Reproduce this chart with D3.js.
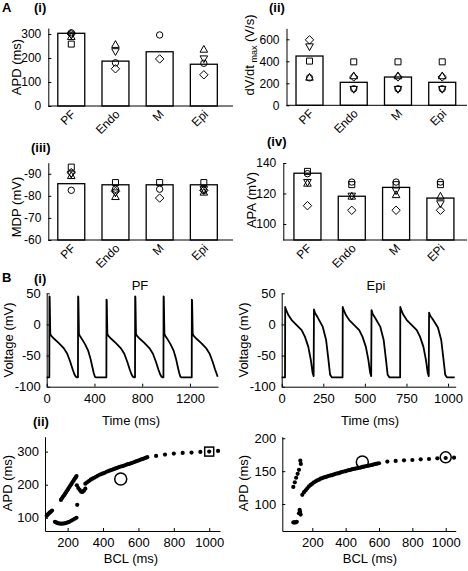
<!DOCTYPE html>
<html><head><meta charset="utf-8">
<script src="https://cdn.jsdelivr.net/npm/d3@7"></script>
<style>body{margin:0;background:#fff} svg text{font-family:"Liberation Sans",Arial,sans-serif}</style>
</head><body><svg id="c" width="468" height="571"></svg>
<script>
// ---------- DATA ----------
const categories = ["PF","Endo","M","Epi"];
const categoriesIV = ["PF","Endo","M","EPi"];

// A(i) APD (ms)
const apdMean    = [303, 187, 226, 174];
const apdCircle  = [305, 180, 296, 178];
const apdSquare  = [258, null, null, null];
const apdTriUp   = [288, 255, null, 235];
const apdTriDown = [297, 228, null, 198];
const apdDiamond = [300, 155, 196, 130];
const apdTicks   = [0, 100, 200, 300];

// A(ii) dV/dt max (V/s)
const dvdtMean    = [448, 209, 257, 209];
const dvdtCircle  = [250, 150, 150, 150];
const dvdtSquare  = [402, 395, 395, 395];
const dvdtTriUp   = [252, 265, 265, 265];
const dvdtTriDown = [535, 148, 148, 148];
const dvdtDiamond = [595, 258, 258, 258];
const dvdtTicks   = [0, 200, 400, 600];

// A(iii) MDP (mV)
const mdpMean    = [-85.5, -85, -85, -85];
const mdpCircle  = [-82.5, -83, -83, -82.5];
const mdpSquare  = [-93, -86, -86, -86];
const mdpTriUp   = [-89, -79.5, null, -81.5];
const mdpTriDown = [-90, -81.5, null, -83];
const mdpDiamond = [-90.5, -82, -79, -82.5];
const mdpTicks   = [-90, -80, -70, -60];

// A(iv) APA (mV)
const apaMean    = [133.3, 118.2, 124, 117];
const apaCircle  = [133, 127.5, 127.5, 127.5];
const apaSquare  = [134.5, 125.8, 125.8, 125.8];
const apaTriUp   = [126.5, 118, 119, 118];
const apaTriDown = [127.5, 118.5, 122, 113.5];
const apaDiamond = [112, 109, 109, 109];
const apaTicks   = [100, 120, 140];

// B(i) voltage traces [time ms, voltage mV]
const pfTrace = [[0,-85],[22,-85],[23,45],[25,44],[30,-15],[37,-18],[62,-23],[102,-30],[142,-38],[172,-47],[197,-60],[217,-72],[232,-80],[244,-84],[254,-85],[262,-85],
 [263,45],[265,44],[270,-15],[277,-18],[297,-24],[322,-32],[347,-42],[367,-55],[382,-68],[394,-78],[404,-84],[412,-85],[500,-85],
 [501,40],[503,39],[508,-15],[515,-18],[540,-23],[580,-30],[620,-38],[650,-47],[675,-60],[695,-72],[710,-80],[722,-84],[732,-85],[740,-85],
 [741,45],[743,44],[748,-15],[755,-18],[780,-23],[820,-30],[860,-38],[890,-47],[915,-60],[935,-72],[950,-80],[962,-84],[972,-85],[978,-85],
 [979,45],[981,44],[986,-15],[993,-18],[1013,-24],[1038,-32],[1063,-42],[1083,-55],[1098,-68],[1110,-78],[1120,-84],[1128,-85],[1215,-85],
 [1216,40],[1218,39],[1223,-15],[1230,-18],[1255,-23],[1295,-30],[1335,-38],[1365,-47],[1390,-60],[1410,-72],[1425,-80],[1432,-84]];
const epiTrace = [[0,-85],[20,-85],[21,28],[24,25],[40,15],[60,7],[90,-1],[120,-9],[140,-20],[160,-36],[175,-57],[186,-78],[192,-83],
 [194,24],[201,18],[217,11],[247,-4],[267,-25],[281,-57],[291,-81],[301,-85],[366,-85],
 [367,28],[370,25],[386,15],[406,7],[436,-1],[466,-9],[486,-20],[506,-36],[521,-57],[532,-78],[538,-83],
 [540,23],[547,17],[563,10],[593,-4],[613,-25],[627,-57],[637,-81],[647,-85],[712,-85],
 [713,28],[716,25],[732,15],[752,7],[782,-1],[812,-9],[832,-20],[852,-36],[867,-57],[878,-78],[884,-83],
 [886,19],[893,14],[909,8],[939,-5],[959,-25],[973,-57],[983,-81],[993,-85],[1040,-85]];
const pfTimeTicks  = [0, 400, 800, 1200];
const epiTimeTicks = [0, 250, 500, 750, 1000];
const voltTicks    = [-100, -50, 0, 50];

// B(ii) restitution [BCL ms, APD ms]
const pfRestLeft  = [[82,106],[88,110],[94,113],[100,116],[106,119],[112,122]];
const pfRestLower = [[128,88],[135,86],[142,84],[150,83],[160,82],[170,82],[180,83],[190,84],[200,86],[210,88],[220,91],[230,94],[240,97],[250,100]];
const pfRestUpper = [[162,154],[168,159],[174,164],[180,168],[186,173],[192,178],[198,183],[204,188],[210,193],[216,198],[222,203],[228,208],[234,213],[240,218],[246,222],[250,226]];
const pfRestMid   = [[254,139],[252,198],[260,190],[268,184],[276,179],[284,178],[292,182],[300,188]];
const pfRestMain  = [[300,203],[310,207],[320,211],[330,215],[340,218],[350,221],[360,224],[370,227],[380,230],[390,232],[400,234],[410,236],[420,239],[430,241],[440,243],[450,245],[460,247],[470,249],[480,251],[490,253],[500,255],[510,256],[520,258],[530,260],[540,262],[550,263],[560,265],[570,267],[580,269],[590,271],[600,273],[610,275],[620,277],[630,279],[640,281],
 [650,283],[700,287],[750,291],[800,294],[850,296],[900,297],[950,299],[1000,300],[1050,302]];
const pfOpenCircle = [500, 217];
const pfSquareMark = [1000, 300];

const epiRestUpper = [[86,126],[95,133],[103,140],[112,146],[120,152],[128,166],[131,161]];
const epiRestLower = [[86,72],[93,72],[100,72],[107,73],[120,86],[124,91],[127,88],[130,84]];
const epiRestMain  = [[140,114],[150,118],[160,121],[170,124],[180,127],[190,129],[200,131],[210,133],[220,134.5],[230,136],[240,137],[250,138.5],[260,139.5],[270,140.5],[280,141],[290,142],[300,143],[310,143.5],[320,144],[330,145],[340,146],[350,146.5],[360,147],[370,148],[380,149],[390,149.5],[400,150],[410,151],[420,151.5],[430,152],[440,153],[450,153.5],[460,154],[470,154.5],[480,155],[490,155.5],[500,156.5],[510,157],[520,157.5],[530,158],[540,158.5],[550,159],[560,159.5],[570,160.5],[580,161],[590,161.5],[600,162],
 [650,164.5],[700,165.5],[750,166.5],[800,167],[850,168],[900,168.5],[950,169.5],[1000,170],[1050,170.5]];
const epiOpenCircle = [500, 164];
const epiCircleMark = [1000, 171];
const bclTicks = [200, 400, 600, 800, 1000];
const pfApdTicks = [100, 200, 300];
const epiApdTicks = [100, 150, 200];

// ---------- DRAW ----------
const svg = d3.select("#c");
const FONT = '"Liberation Sans",Arial,sans-serif';
const fmt = d => String(d);

function txt(x, y, s, size, opts = {}) {
  const g = svg.append("g").attr("transform", `translate(${x},${y}) rotate(${opts.rotate || 0})`);
  return g.append("text").attr("x", 0).attr("y", 0).text(s)
    .attr("font-size", size).attr("fill", "#000")
    .attr("text-anchor", opts.anchor || "start")
    .attr("font-weight", opts.bold ? "bold" : "normal");
}

function styleAxis(g, size) {
  g.attr("font-size", size).attr("font-family", FONT);
  g.selectAll("path,line").attr("stroke", "#000").attr("stroke-width", 1);
  g.selectAll("text").attr("fill", "#000");
}

function markerPath(type) {
  if (type === "square") return "M-3,-3H3V3H-3Z";
  if (type === "triUp") return "M0,-4.2L3.8,2.6L-3.8,2.6Z";
  if (type === "triDown") return "M0,4.2L3.8,-2.6L-3.8,-2.6Z";
  if (type === "diamond") return "M0,-4.2L4.2,0L0,4.2L-4.2,0Z";
  return null;
}

function barPanel(o) {
  const x = d3.scaleLinear().domain(o.xd).range(o.xr);
  const y = d3.scaleLinear().domain(o.yd).range(o.yr);
  const g = svg.append("g");
  const half = 0.305;
  g.selectAll("rect").data(o.mean).join("rect")
    .attr("x", (d, i) => x(i + 1 - half))
    .attr("width", x(1 + half) - x(1 - half))
    .attr("y", d => Math.min(y(d), y(o.base)))
    .attr("height", d => Math.abs(y(o.base) - y(d)))
    .attr("fill", "#fff").attr("stroke", "#000").attr("stroke-width", 1.3);
  o.series.forEach(s => {
    const pts = s.values.map((v, i) => ({v, i})).filter(d => d.v !== null);
    if (s.type === "circle") {
      g.selectAll(null).data(pts).join("circle")
        .attr("cx", d => x(d.i + 1)).attr("cy", d => y(d.v)).attr("r", 3.2)
        .attr("fill", "none").attr("stroke", "#000").attr("stroke-width", 1);
    } else {
      g.selectAll(null).data(pts).join("path")
        .attr("transform", d => `translate(${x(d.i + 1)},${y(d.v)})`)
        .attr("d", markerPath(s.type))
        .attr("fill", "none").attr("stroke", "#000").attr("stroke-width", 1);
    }
  });
  const ya = g.append("g").attr("transform", `translate(${o.xr[0]},0)`)
    .call(d3.axisLeft(y).tickValues(o.ticks).tickFormat(fmt).tickSizeInner(-3).tickSizeOuter(0).tickPadding(7));
  styleAxis(ya, 12);
  g.append("line").attr("x1", o.xr[0]).attr("x2", o.xr[1])
    .attr("y1", y(o.base)).attr("y2", y(o.base)).attr("stroke", "#000").attr("stroke-width", 1);
  // rotated category labels
  const lab = g.selectAll("g.lab").data(o.labels).join("g").attr("class", "lab")
    .attr("transform", (d, i) => `translate(${x(i + 1) + 5},${y(o.base) + 9}) rotate(-45)`);
  lab.append("text").text(d => d).attr("text-anchor", "end")
    .attr("font-size", 12).attr("fill", "#000");
  return {x, y};
}

function series(c, s, tu, td, dm) {
  return [{type: "circle", values: c}, {type: "square", values: s}, {type: "triUp", values: tu},
          {type: "triDown", values: td}, {type: "diamond", values: dm}];
}

barPanel({xd: [0.48, 4.66], xr: [48.3, 233], yd: [0, 325], yr: [106, 28], base: 0,
  mean: apdMean, ticks: apdTicks, labels: categories,
  series: series(apdCircle, apdSquare, apdTriUp, apdTriDown, apdDiamond)});
barPanel({xd: [0.48, 4.56], xr: [286.5, 467], yd: [0, 700], yr: [105.3, 28.3], base: 0,
  mean: dvdtMean, ticks: dvdtTicks, labels: categories,
  series: series(dvdtCircle, dvdtSquare, dvdtTriUp, dvdtTriDown, dvdtDiamond)});
barPanel({xd: [0.48, 4.66], xr: [48.3, 233], yd: [-60, -95], yr: [240, 162.7], base: -60,
  mean: mdpMean, ticks: mdpTicks, labels: categories,
  series: series(mdpCircle, mdpSquare, mdpTriUp, mdpTriDown, mdpDiamond)});
barPanel({xd: [0.455, 4.6], xr: [283.3, 467], yd: [89.5, 140], yr: [240, 163], base: 89.5,
  mean: apaMean, ticks: apaTicks, labels: categoriesIV,
  series: series(apaCircle, apaSquare, apaTriUp, apaTriDown, apaDiamond)});

// Panel letters and labels (A)
txt(2, 12, "A", 13, {bold: true});
txt(34, 12, "(i)", 13, {bold: true});
txt(269, 12, "(ii)", 13, {bold: true});
txt(31, 152, "(iii)", 13, {bold: true});
txt(267, 146, "(iv)", 13, {bold: true});
txt(21, 67, "APD (ms)", 13, {anchor: "middle", rotate: -90});
txt(21, 207, "MDP (mV)", 13, {anchor: "middle", rotate: -90});
txt(256, 200, "APA (mV)", 13, {anchor: "middle", rotate: -90});
{
  const t = svg.append("g").attr("transform", "translate(254,55) rotate(-90)").append("text")
    .attr("text-anchor", "middle").attr("font-size", 13).attr("fill", "#000");
  t.append("tspan").text("dV/dt");
  t.append("tspan").attr("font-size", 9).attr("dy", 3).text(" max");
  t.append("tspan").attr("dy", -3).text(" (V/s)");
}

// B(i) traces
function tracePanel(o) {
  const x = d3.scaleLinear().domain(o.xd).range(o.xr);
  const y = d3.scaleLinear().domain([-100, 50]).range([386.7, 293.3]);
  const g = svg.append("g");
  g.append("path").datum(o.data)
    .attr("d", d3.line().x(d => x(d[0])).y(d => y(d[1])))
    .attr("fill", "none").attr("stroke", "#000").attr("stroke-width", 1.8).attr("stroke-linejoin", "round");
  const ya = g.append("g").attr("transform", `translate(${o.xr[0]},0)`)
    .call(d3.axisLeft(y).tickValues(voltTicks).tickFormat(fmt).tickSizeInner(-3).tickSizeOuter(0).tickPadding(6));
  styleAxis(ya, 13);
  const xa = g.append("g").attr("transform", `translate(0,386.7)`)
    .call(d3.axisBottom(x).tickValues(o.ticks).tickFormat(fmt).tickSizeInner(-3).tickSizeOuter(0).tickPadding(7));
  styleAxis(xa, 13);
}
tracePanel({data: pfTrace, xd: [0, 1435], xr: [46.7, 218], ticks: pfTimeTicks});
tracePanel({data: epiTrace, xd: [0, 1046], xr: [281.7, 455.7], ticks: epiTimeTicks});
txt(2, 282, "B", 13, {bold: true});
txt(34, 283, "(i)", 13, {bold: true});
txt(140, 290, "PF", 13, {anchor: "middle"});
txt(376, 290, "Epi", 13, {anchor: "middle"});
txt(13, 340, "Voltage (mV)", 13, {anchor: "middle", rotate: -90});
txt(248, 340, "Voltage (mV)", 13, {anchor: "middle", rotate: -90});
txt(131, 425, "Time (ms)", 13, {anchor: "middle"});
txt(370, 425, "Time (ms)", 13, {anchor: "middle"});

// B(ii) restitution
function restPanel(o) {
  const x = d3.scaleLinear().domain(o.xd).range(o.xr);
  const y = d3.scaleLinear().domain(o.yd).range([531, 436.7]);
  const g = svg.append("g");
  const all = [].concat(...o.groups);
  g.selectAll(null).data(all).join("circle")
    .attr("cx", d => x(d[0])).attr("cy", d => y(d[1])).attr("r", 2.1).attr("fill", "#000");
  g.append("circle").attr("cx", x(o.open[0])).attr("cy", y(o.open[1])).attr("r", 6)
    .attr("fill", "none").attr("stroke", "#000").attr("stroke-width", 1.5);
  if (o.endSquare) {
    g.append("rect").attr("x", x(o.endSquare[0]) - 4.5).attr("y", y(o.endSquare[1]) - 4.5)
      .attr("width", 9).attr("height", 9).attr("fill", "none").attr("stroke", "#000").attr("stroke-width", 1.5);
  }
  if (o.endCircle) {
    g.append("circle").attr("cx", x(o.endCircle[0])).attr("cy", y(o.endCircle[1])).attr("r", 5.5)
      .attr("fill", "none").attr("stroke", "#000").attr("stroke-width", 1.5);
  }
  const ya = g.append("g").attr("transform", `translate(${o.xr[0]},0)`)
    .call(d3.axisLeft(y).tickValues(o.yticks).tickFormat(fmt).tickSizeInner(-3).tickSizeOuter(0).tickPadding(6));
  styleAxis(ya, 13);
  const xa = g.append("g").attr("transform", `translate(0,531)`)
    .call(d3.axisBottom(x).tickValues(bclTicks).tickFormat(fmt).tickSizeInner(-3).tickSizeOuter(0).tickPadding(7));
  styleAxis(xa, 13);
}
restPanel({xd: [72, 1061], xr: [45, 220], yd: [60, 345], yticks: pfApdTicks,
  groups: [pfRestLeft, pfRestLower, pfRestUpper, pfRestMid, pfRestMain],
  open: pfOpenCircle, endSquare: pfSquareMark});
restPanel({xd: [20, 1060], xr: [282.3, 455.7], yd: [59, 202.4], yticks: epiApdTicks,
  groups: [epiRestUpper, epiRestLower, epiRestMain],
  open: epiOpenCircle, endCircle: epiCircleMark});
txt(33, 426, "(ii)", 13, {bold: true});
txt(12, 483, "APD (ms)", 13, {anchor: "middle", rotate: -90});
txt(248, 483, "APD (ms)", 13, {anchor: "middle", rotate: -90});
txt(131, 563, "BCL (ms)", 13, {anchor: "middle"});
txt(370, 563, "BCL (ms)", 13, {anchor: "middle"});
</script></body></html>
